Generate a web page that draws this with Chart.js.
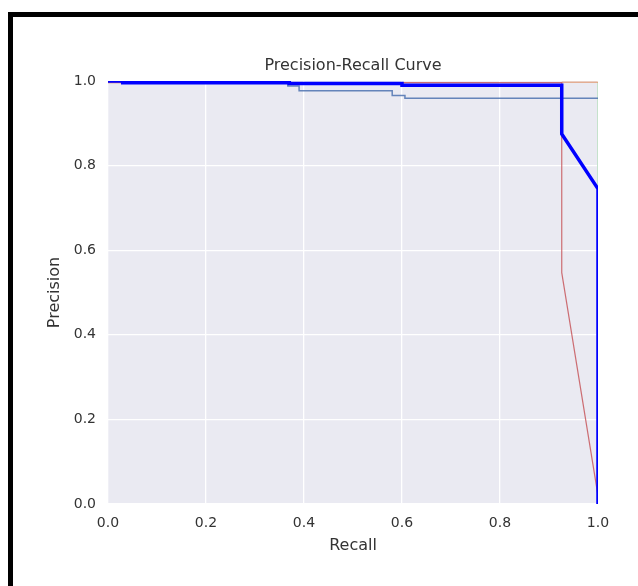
<!DOCTYPE html>
<html>
<head>
<meta charset="utf-8">
<script src="https://cdn.jsdelivr.net/npm/chart.js@4/dist/chart.umd.min.js"></script>
<style>
  html, body { margin: 0; padding: 0; background: #fff; }
  #wrap { position: relative; width: 638px; height: 586px; overflow: hidden; }
  #frame {
    position: absolute; left: 8px; top: 12px; width: 800px; height: 800px;
    border-left: 5px solid #000; border-top: 5px solid #000; pointer-events: none;
  }
  canvas { position: absolute; left: 0; top: 0; }
</style>
</head>
<body>
<div id="wrap">
  <canvas id="chart" width="638" height="586"></canvas>
  <div id="frame"></div>
</div>
<script>
// tick labels
const xTicks = [0, 0.2, 0.4, 0.6, 0.8, 1.0];
const yTicks = [0, 0.2, 0.4, 0.6, 0.8, 1.0];

// thick blue curve
const recallBold    = [0, 0.03, 0.03, 0.37, 0.37, 0.60, 0.60, 0.926, 0.926, 1.0, 1.0];
const precisionBold = [1.0, 1.0, 0.996, 0.996, 0.994, 0.994, 0.99, 0.99, 0.875, 0.745, 0.0];

// thin steel-blue curve
const recallSteel    = [0, 0.367, 0.367, 0.39, 0.39, 0.58, 0.58, 0.606, 0.606, 1.0];
const precisionSteel = [1.0, 1.0, 0.988, 0.988, 0.977, 0.977, 0.966, 0.966, 0.959, 0.959];

// thin red curve
const recallRed    = [0, 0.926, 0.926, 1.0];
const precisionRed = [0.996, 0.996, 0.547, 0.02];

// salmon and green edge curves
const recallSalmon    = [0.926, 1.0];
const precisionSalmon = [0.997, 0.997];
const recallGreen    = [1.0, 1.0];
const precisionGreen = [0.997, 0.0];

function pts(xs, ys) {
  return xs.map((x, i) => ({ x, y: ys[i] }));
}

const plotBg = {
  id: "plotBg",
  beforeDraw(c) {
    const a = c.chartArea;
    c.ctx.save();
    c.ctx.fillStyle = "#eaeaf2";
    c.ctx.fillRect(a.left, a.top, a.right - a.left, a.bottom - a.top);
    c.ctx.restore();
  },
};

const line = (label, data, color, width) => ({
  label, data, borderColor: color, borderWidth: width,
  pointRadius: 0, tension: 0, fill: false, clip: 0,
});

const font = { family: "DejaVu Sans", size: 14 };
const labelFont = { family: "DejaVu Sans", size: 16, weight: "normal" };
const ink = "#333333";

new Chart(document.getElementById("chart"), {
  type: "line",
  data: {
    datasets: [
      line("bold", pts(recallBold, precisionBold), "#0000ff", 3.5),
      line("steel", pts(recallSteel, precisionSteel), "rgba(76,114,176,0.85)", 1.5),
      line("red", pts(recallRed, precisionRed), "rgba(196,78,82,0.8)", 1.2),
      line("salmon", pts(recallSalmon, precisionSalmon), "rgba(221,132,82,0.6)", 1.5),
      line("green", pts(recallGreen, precisionGreen), "rgba(85,168,104,0.45)", 1.5),
    ],
  },
  options: {
    responsive: false,
    animation: false,
    layout: { padding: { left: 0, right: 40, top: 0, bottom: 0 } },
    plugins: {
      legend: { display: false },
      tooltip: { enabled: false },
      title: {
        display: true,
        fullSize: false,
        text: "Precision-Recall Curve",
        color: ink,
        font: labelFont,
        padding: { top: 56.4, bottom: 5.4 },
      },
    },
    scales: {
      x: {
        type: "linear",
        min: 0,
        max: 1,
        afterBuildTicks: (s) => { s.ticks = xTicks.map((v) => ({ value: v })); },
        afterFit: (s) => { s.height = 82; },
        ticks: { color: ink, font, padding: 11, maxRotation: 0, callback: (v) => v.toFixed(1) },
        grid: { color: "#ffffff", lineWidth: 1.3, drawTicks: false },
        border: { display: false },
        title: { display: true, text: "Recall", color: ink, font: labelFont, padding: { top: 0, bottom: 30.4 } },
      },
      y: {
        type: "linear",
        min: 0,
        max: 1,
        afterBuildTicks: (s) => { s.ticks = yTicks.map((v) => ({ value: v })); },
        afterFit: (s) => { s.width = 108; },
        ticks: { color: ink, font, padding: 12, callback: (v) => v.toFixed(1) },
        grid: { color: "#ffffff", lineWidth: 1.3, drawTicks: false },
        border: { display: false },
        title: { display: true, text: "Precision", color: ink, font: labelFont, padding: { top: 45.4, bottom: 0 } },
      },
    },
  },
  plugins: [plotBg],
});
</script>
</body>
</html>
